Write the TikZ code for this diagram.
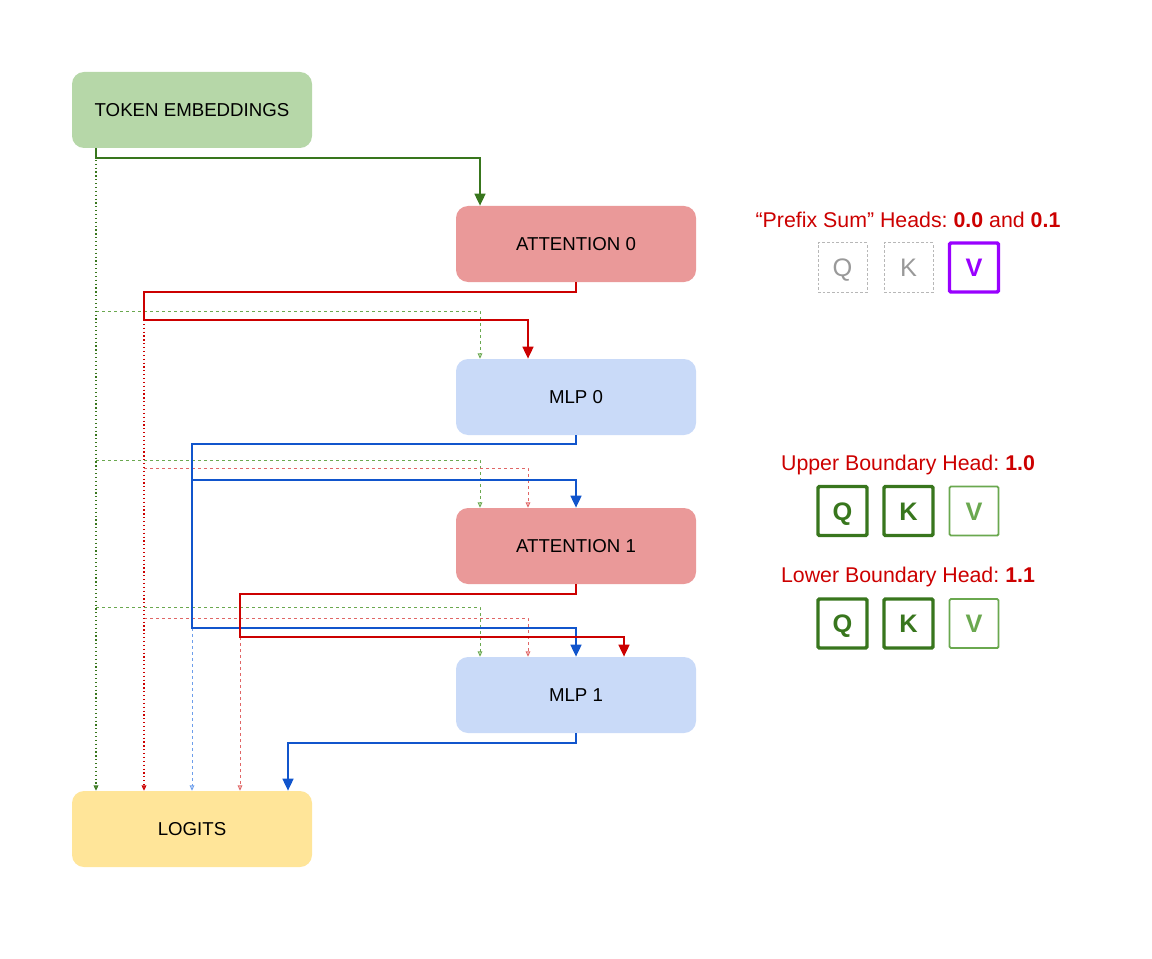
\documentclass[tikz,border=0pt]{standalone}
\usepackage{fontspec}
\setmainfont{Liberation Sans}
\usetikzlibrary{arrows.meta}
\definecolor{teFill}{HTML}{B6D7A8}
\definecolor{attFill}{HTML}{EA9999}
\definecolor{mlpFill}{HTML}{C9DAF8}
\definecolor{logFill}{HTML}{FFE599}
\definecolor{gDark}{HTML}{38761D}
\definecolor{gLight}{HTML}{6AA84F}
\definecolor{rDark}{HTML}{CC0000}
\definecolor{rLight}{HTML}{E06666}
\definecolor{bDark}{HTML}{1155CC}
\definecolor{bLight}{HTML}{6D9EEB}
\definecolor{purp}{HTML}{9900FF}
\definecolor{gry}{HTML}{999999}
\definecolor{gryLine}{HTML}{B7B7B7}
\frenchspacing
\tikzset{
  block/.style={rounded corners=9pt, minimum width=180pt, minimum height=57pt, inner sep=0pt, font=\fontsize{14}{17}\selectfont},
  solidcon/.style={line width=1.8pt, -{Triangle[length=9pt,width=8pt]}},
  dotcon/.style={line width=0.9pt, dotted, -{Triangle[open,length=4pt,width=3.5pt]}},
  dashcon/.style={line width=0.7pt, dash pattern=on 2.25pt off 2.25pt, -{Triangle[open,length=4pt,width=3.5pt]}},
  head/.style={text=rDark, font=\fontsize{16}{19}\selectfont},
  qkv/.style={minimum size=36.75pt, inner sep=0pt, text height=13.6pt, text depth=0pt, font=\fontsize{19}{22}\selectfont},
  qkvoff/.style={qkv, draw=gryLine, line width=0.75pt, dash pattern=on 2pt off 1.5pt, text=gry},
  qkvon/.style={qkv, draw=gDark, line width=2.6pt, rounded corners=1pt, text=gDark, font=\fontsize{19}{22}\selectfont\bfseries},
  qkvlite/.style={qkv, draw=gLight, line width=1.4pt, rounded corners=1pt, text=gLight, font=\fontsize{19}{22}\selectfont\bfseries},
  qkvpurp/.style={qkv, draw=purp, line width=2.6pt, rounded corners=1pt, text=purp, font=\fontsize{19}{22}\selectfont\bfseries}
}
\begin{document}
\begin{tikzpicture}[x=0.75pt,y=-0.75pt]
\useasboundingbox (0,0) rectangle (1152,959);
% nodes
\node[block, fill=teFill]  (te)   at (192,110) {TOKEN EMBEDDINGS};
\node[block, fill=attFill] (att0) at (576,244) {ATTENTION 0};
\node[block, fill=mlpFill] (mlp0) at (576,397) {MLP 0};
\node[block, fill=attFill] (att1) at (576,546) {ATTENTION 1};
\node[block, fill=mlpFill] (mlp1) at (576,695) {MLP 1};
\node[block, fill=logFill] (logits) at (192,829) {LOGITS};
% columns and rows
\coordinate (cg)  at (96,0);
\coordinate (cr0) at (144,0);
\coordinate (cb0) at (192,0);
\coordinate (cr1) at (240,0);
\coordinate (cb1) at (288,0);
\coordinate (tg)  at (480,0);
\coordinate (tr)  at (528,0);
\coordinate (tr1) at (624,0);
\coordinate (y311) at (0,311);
\coordinate (y320) at (0,320);
\coordinate (y460) at (0,460);
\coordinate (y468) at (0,468);
\coordinate (y480) at (0,480);
\coordinate (y607) at (0,607);
\coordinate (y618) at (0,618);
\coordinate (y628) at (0,628);
\coordinate (y637) at (0,637);
% green skip lines
\draw[dashcon, draw=gLight] (cg |- y311) -| (mlp0.north -| tg);
\draw[dashcon, draw=gLight] (cg |- y460) -| (att1.north -| tg);
\draw[dashcon, draw=gLight] (cg |- y607) -| (mlp1.north -| tg);
\draw[dotcon, draw=gDark] (te.south -| cg) -- (logits.north -| cg);
% red (att0) skip lines
\draw[dashcon, draw=rLight] (cr0 |- y468) -| (att1.north -| tr);
\draw[dashcon, draw=rLight] (cr0 |- y618) -| (mlp1.north -| tr);
\draw[dotcon, draw=rDark] (cr0 |- y320) -- (logits.north -| cr0);
% blue (mlp0) skip to logits
\draw[dashcon, draw=bLight] (cb0 |- y628) -- (logits.north -| cb0);
% red (att1) skip to logits
\draw[dashcon, draw=rLight] (cr1 |- y637) -- (logits.north -| cr1);
% solid connectors
\draw[solidcon, draw=gDark] (te.south -| cg) -- ++(0,10) -| (att0.north -| tg);
\draw[solidcon, draw=rDark] (att0.south) -- ++(0,10) -| (cr0 |- y320) -| (mlp0.north -| tr);
\draw[solidcon, draw=bDark] (mlp0.south) -- ++(0,9) -| (cb0 |- y628) -| (mlp1.north);
\draw[solidcon, draw=bDark] (cb0 |- y480) -| (att1.north);
\draw[solidcon, draw=rDark] (att1.south) -- ++(0,10) -| (cr1 |- y637) -| (mlp1.north -| tr1);
\draw[solidcon, draw=bDark] (mlp1.south) -- ++(0,10) -| (logits.north -| cb1);
% right panel
\node[head] (h0) at (908,220) {“Prefix Sum” Heads: \textbf{0.0} and \textbf{0.1}};
\node[qkvoff]  (q0) at (842.5,267.5) {Q};
\node[qkvoff]  (k0) at (908.5,267.5) {K};
\node[qkvpurp] (v0) at (974,267.5) {V};
\node[head] (h1) at (908,465) {Upper Boundary Head: \textbf{1.0}};
\node[qkvon]   (q1) at (842.5,511) {Q};
\node[qkvon]   (k1) at (908.5,511) {K};
\node[qkvlite] (v1) at (974,511) {V};
\node[head] (h2) at (908,577) {Lower Boundary Head: \textbf{1.1}};
\node[qkvon]   (q2) at (842.5,623.5) {Q};
\node[qkvon]   (k2) at (908.5,623.5) {K};
\node[qkvlite] (v2) at (974,623.5) {V};
\end{tikzpicture}
\end{document}
